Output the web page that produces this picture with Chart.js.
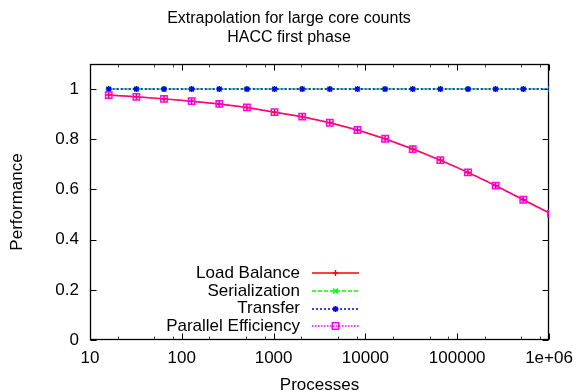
<!DOCTYPE html>
<html><head><meta charset="utf-8">
<script src="https://cdn.jsdelivr.net/npm/chart.js@4.4.1/dist/chart.umd.min.js"></script>
<style>html,body{margin:0;padding:0;background:#fff;} canvas{display:block;}</style>
</head><body>
<canvas id="c" width="578" height="392"></canvas>
<script>
// ---- data ----
const processes = [16, 32, 64, 128, 256, 512, 1024, 2048, 4096, 8192, 16384, 32768, 65536, 131072, 262144, 524288, 1048576];
const loadBalance = [0.976, 0.969, 0.961, 0.952, 0.941, 0.927, 0.908, 0.890, 0.866, 0.837, 0.802, 0.761, 0.717, 0.668, 0.615, 0.559, 0.503];
const serialization = [1, 1, 1, 1, 1, 1, 1, 1, 1, 1, 1, 1, 1, 1, 1, 1, 1];
const transfer = [1, 1, 1, 1, 1, 1, 1, 1, 1, 1, 1, 1, 1, 1, 1, 1, 1];
const parallelEfficiency = [0.976, 0.969, 0.961, 0.952, 0.941, 0.927, 0.908, 0.890, 0.866, 0.837, 0.802, 0.761, 0.717, 0.668, 0.615, 0.559, 0.503];
const seriesNames = ['Load Balance', 'Serialization', 'Transfer', 'Parallel Efficiency'];
const xTickValues = [10, 100, 1000, 10000, 100000, 1000000];
const xTickLabels = ['10', '100', '1000', '10000', '100000', '1e+06'];
const yTickValues = [0, 0.2, 0.4, 0.6, 0.8, 1];
const yTickLabels = ['0', '0.2', '0.4', '0.6', '0.8', '1'];
const titleLines = ['Extrapolation for large core counts', 'HACC first phase'];
const xTitle = 'Processes';
const yTitle = 'Performance';

// ---- styling ----
const FONT = "'Liberation Sans', Arial, Helvetica, sans-serif";
Chart.defaults.font.family = FONT;
Chart.defaults.color = '#000';
const LW = 1.5;

function mk(label, values, color, dash, pointStyle, radius, order) {
  return {
    label,
    data: processes.map((p, i) => ({ x: p, y: values[i] })),
    borderColor: color, backgroundColor: 'rgba(0,0,0,0)',
    borderWidth: LW, borderDash: dash,
    pointStyle, pointRadius: radius, pointHoverRadius: radius,
    pointBorderColor: color, pointBackgroundColor: 'rgba(0,0,0,0)', pointBorderWidth: LW,
    fill: false, tension: 0, clip: 0, order,
    keyColor: color, keyDash: dash
  };
}

const zeroPad = s => { s.paddingLeft = 0; s.paddingRight = 0; s.paddingTop = 0; s.paddingBottom = 0; };

const frame = {
  id: 'frame',
  beforeDatasetsDraw(chart) {
    const { ctx, chartArea: a, scales: { x, y } } = chart;
    const L = Math.round(a.left) + 0.5, R = Math.round(a.right) - 0.5;
    const T = Math.round(a.top) + 0.5, B = Math.round(a.bottom) - 0.5;
    ctx.save();
    ctx.lineWidth = 1;
    ctx.setLineDash([]);
    const seg = (x1, y1, x2, y2) => { ctx.beginPath(); ctx.moveTo(x1, y1); ctx.lineTo(x2, y2); ctx.stroke(); };
    ctx.strokeStyle = '#444';
    for (let i = 0; i < xTickValues.length - 1; i++) {
      [2, 5, 8].forEach(m => {
        const px = Math.round(x.getPixelForValue(xTickValues[i] * m)) + 0.5;
        seg(px, B, px, B - 3); seg(px, T, px, T + 3);
      });
    }
    ctx.strokeStyle = '#000';
    xTickValues.forEach(v => {
      const px = Math.round(x.getPixelForValue(v)) + 0.5;
      seg(px, B, px, B - 6); seg(px, T, px, T + 6);
    });
    yTickValues.forEach(v => {
      const py = Math.round(y.getPixelForValue(v)) + 0.5;
      seg(L, py, L + 6, py); seg(R, py, R - 6, py);
    });
    ctx.lineWidth = 1.3;
    ctx.strokeRect(L, T, R - L, B - T);
    ctx.restore();
  }
};

const keyLegend = {
  id: 'keyLegend',
  afterDatasetsDraw(chart) {
    const { ctx } = chart;
    const textRight = 300, lineX1 = 312, lineX2 = 359, y0 = 273.3, dy = 17.7;
    chart.data.datasets.forEach((ds, i) => {
      const yy = y0 + i * dy;
      const ly = Math.round(yy);
      ctx.save();
      ctx.font = '17px ' + FONT;
      ctx.textAlign = 'right';
      ctx.textBaseline = 'middle';
      ctx.fillStyle = '#000';
      ctx.fillText(ds.label, textRight, yy);
      ctx.restore();
      ctx.save();
      ctx.strokeStyle = ds.keyColor;
      ctx.lineWidth = LW;
      ctx.setLineDash(ds.keyDash);
      ctx.beginPath(); ctx.moveTo(lineX1, ly); ctx.lineTo(lineX2, ly); ctx.stroke();
      ctx.restore();
      ctx.save();
      ctx.setLineDash([]);
      ctx.strokeStyle = ds.keyColor;
      ctx.fillStyle = 'rgba(0,0,0,0)';
      ctx.lineWidth = LW;
      Chart.helpers.drawPoint(ctx, { pointStyle: ds.pointStyle, radius: ds.pointRadius, rotation: 0, borderWidth: LW }, (lineX1 + lineX2) / 2, ly);
      ctx.restore();
    });
  }
};

new Chart(document.getElementById('c'), {
  type: 'line',
  data: {
    datasets: [
      mk(seriesNames[0], loadBalance, '#ff0000', [], 'cross', 3, 4),
      mk(seriesNames[1], serialization, '#00ff00', [4, 2], 'crossRot', 3.5, 3),
      mk(seriesNames[2], transfer, '#0000ff', [2, 2], 'star', 3, 2),
      mk(seriesNames[3], parallelEfficiency, '#ff00ff', [1.5, 1.5], 'rect', 4.5, 1)
    ]
  },
  options: {
    responsive: false, animation: false, devicePixelRatio: 1,
    layout: { padding: { left: 0, right: 0, top: 0, bottom: 0 } },
    plugins: {
      legend: { display: false },
      tooltip: { enabled: false },
      title: {
        display: true, text: titleLines, color: '#000',
        font: { size: 16, weight: 'normal', lineHeight: 1.15 },
        padding: { top: 9.6, bottom: 17.6 }
      }
    },
    scales: {
      x: {
        type: 'logarithmic', min: 10, max: 1000000,
        grid: { display: false, drawTicks: false }, border: { display: false },
        afterBuildTicks: s => { s.ticks = xTickValues.map(v => ({ value: v })); },
        ticks: { autoSkip: false, maxRotation: 0, padding: 8, font: { size: 17 }, color: '#000',
          callback: (v) => { const i = xTickValues.indexOf(v); return i >= 0 ? xTickLabels[i] : ''; } },
        title: { display: true, text: xTitle, font: { size: 17, lineHeight: '14px' }, padding: { top: 0, bottom: 0 }, color: '#000' },
        afterFit: s => { s.height = 52; zeroPad(s); }
      },
      y: {
        type: 'linear', min: 0, max: 1.1,
        grid: { display: false, drawTicks: false }, border: { display: false },
        afterBuildTicks: s => { s.ticks = yTickValues.map(v => ({ value: v })); },
        ticks: { padding: 11, font: { size: 17 }, color: '#000',
          callback: (v) => { const i = yTickValues.findIndex(t => Math.abs(t - v) < 1e-9); return i >= 0 ? yTickLabels[i] : ''; } },
        title: { display: true, text: yTitle, font: { size: 17, lineHeight: '14px' }, padding: { top: 10.8, bottom: 0 }, color: '#000' },
        afterFit: s => { s.width = 90; zeroPad(s); }
      },
      y2: {
        type: 'linear', position: 'right', display: true,
        grid: { display: false, drawTicks: false }, border: { display: false },
        ticks: { display: false },
        afterFit: s => { s.width = 29; zeroPad(s); }
      }
    }
  },
  plugins: [frame, keyLegend]
});
</script>
</body></html>
